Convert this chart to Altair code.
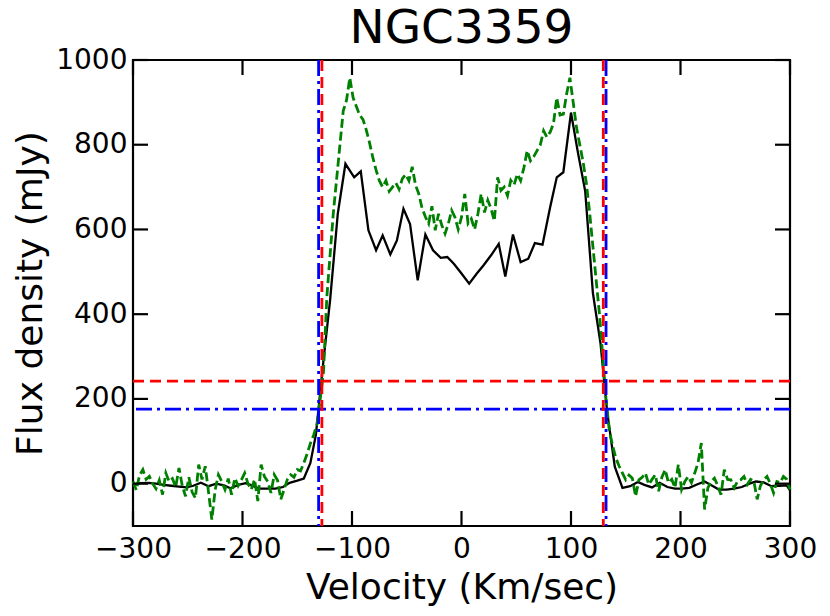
import altair as alt
import pandas as pd

# ---- data ----
black_vel = [-300, -293, -286, -279, -272, -265, -258, -251, -245, -238,
             -231, -224, -217, -211, -204, -197, -190, -184, -177, -170,
             -163, -157, -150, -144, -138, -133, -126, -120, -113, -106,
             -98, -92, -85, -78, -72, -65, -59, -53, -47, -40,
             -33, -26, -19, -13, -7, 0, 7, 14, 20, 27,
             34, 40, 47, 54, 61, 67, 74, 81, 87, 93,
             100, 106, 113, 120, 127, 133, 140, 147, 154, 161,
             167, 174, 181, 188, 195, 201, 208, 215, 222, 229,
             235, 242, 249, 256, 263, 269, 276, 283, 290, 297, 300]
black_flux = [-2, 1, 2, 0, -3, -5, -7, -9, -5, 2,
              -6, 0, -4, -11, -3, 1, -6, -12, -12, -12,
              -8, 2, 7, 12, 49, 115, 292, 433, 637, 755,
              723, 737, 598, 551, 586, 541, 574, 649, 613, 480,
              588, 551, 533, 535, 519, 496, 472, 496, 515, 539,
              566, 489, 588, 523, 531, 568, 564, 653, 723, 735,
              876, 786, 690, 450, 330, 170, 40, -10, -6, 4,
              -3, -9, 2, -8, -12, -12, -10, -2, 5, -5,
              -14, -14, -12, -8, 0, 5, 3, -6, -5, -4, -16]

green_vel = list(range(-300, 301, 3))
green_flux = [5, -15, 20, 33, 10, 17, 0, -12, 8, -26,
              25, 5, 12, -8, 37, -5, -30, 15, -20, -34,
              45, 10, 41, -20, -85, -15, 21, 5, -14, 12,
              -26, 13, -5, 9, 25, 0, -14, 10, -41, 45,
              17, 5, -22, 21, 8, -37, -14, 10, 21, 15,
              33, 30, 49, 70, 95, 115, 140, 200, 265, 440,
              540, 640, 720, 800, 880, 905, 958, 911, 890, 870,
              860, 835, 805, 770, 740, 715, 700, 715, 690, 700,
              710, 695, 720, 730, 715, 748, 705, 684, 650, 630,
              614, 655, 598, 637, 610, 590, 614, 645, 629, 600,
              629, 684, 614, 625, 600, 637, 684, 640, 669, 649,
              620, 723, 692, 700, 680, 716, 705, 731, 715, 746,
              786, 762, 772, 786, 800, 833, 818, 830, 850, 911,
              870, 872, 920, 958, 900, 841, 800, 760, 710, 640,
              560, 480, 400, 300, 200, 125, 90, 60, 41, 25,
              9, 20, 13, -30, 9, 15, 25, -2, 10, 21,
              -18, 15, 33, 2, 10, -10, 45, -14, 5, 17,
              2, 25, 49, 96, -61, -10, 5, 13, -5, -26,
              33, 10, 9, -10, 5, 9, 17, -2, 10, 6,
              -37, -5, 9, 17, 0, -22, 5, 2, 17, 10,
              -14]

red_level = [242]
blue_level = [176]
red_edges = [-127.5, 129.5]
blue_edges = [-130.5, 132]

x_ticks = [-300, -200, -100, 0, 100, 200, 300]
y_ticks = [0, 200, 400, 600, 800, 1000]

assert len(black_vel) == len(black_flux)
assert len(green_vel) == len(green_flux)

W, H = 657, 466
TL = 15  # inward tick length

xs = alt.Scale(domain=[-300, 300], nice=False, zero=False)
ys = alt.Scale(domain=[-100, 1000], nice=False, zero=False)

x_axis = alt.Axis(values=x_ticks, title="Velocity (Km/sec)", ticks=False, tickSize=0,
                  domain=False, grid=False, labelFontSize=28, labelPadding=9,
                  titleFontSize=36, titlePadding=7, labelFlush=False, format="d")
y_axis = alt.Axis(values=y_ticks, title="Flux density (mJy)", ticks=False, tickSize=0,
                  domain=False, grid=False, labelFontSize=28, labelPadding=6,
                  titleFontSize=36, titlePadding=6, labelFlush=False, format="d")

black_df = pd.DataFrame({"v": black_vel, "f": black_flux})
green_df = pd.DataFrame({"v": green_vel, "f": green_flux})

X = alt.X("v:Q", scale=xs, axis=x_axis)
Y = alt.Y("f:Q", scale=ys, axis=y_axis)

black = alt.Chart(black_df).mark_line(color="black", strokeWidth=2.3).encode(x=X, y=Y, order="v:Q")
green = alt.Chart(green_df).mark_line(color="#008000", strokeWidth=2.8, strokeDash=[9, 4]).encode(x=X, y=Y, order="v:Q")

xt = pd.DataFrame({"v": x_ticks})
yt = pd.DataFrame({"f": y_ticks})
bottom_ticks = alt.Chart(xt).mark_rule(color="black", strokeWidth=2.2).encode(
    x=X, y=alt.value(H), y2=alt.value(H - TL))
top_ticks = alt.Chart(xt).mark_rule(color="black", strokeWidth=2.2).encode(
    x=X, y=alt.value(0), y2=alt.value(TL))
left_ticks = alt.Chart(yt).mark_rule(color="black", strokeWidth=2.2).encode(
    y=Y, x=alt.value(0), x2=alt.value(TL))
right_ticks = alt.Chart(yt).mark_rule(color="black", strokeWidth=2.2).encode(
    y=Y, x=alt.value(W - TL), x2=alt.value(W))

red_h = alt.Chart(pd.DataFrame({"f": red_level})).mark_rule(
    color="#ff0000", strokeWidth=2.8, strokeDash=[11, 6]).encode(y=Y)
blue_h = alt.Chart(pd.DataFrame({"f": blue_level})).mark_rule(
    color="#0000ff", strokeWidth=2.8, strokeDash=[16, 5, 3, 5]).encode(y=Y)
blue_v = alt.Chart(pd.DataFrame({"v": blue_edges})).mark_rule(
    color="#0000ff", strokeWidth=2.8, strokeDash=[16, 5, 3, 5]).encode(x=X)
red_v = alt.Chart(pd.DataFrame({"v": red_edges})).mark_rule(
    color="#ff0000", strokeWidth=2.8, strokeDash=[11, 6]).encode(x=X)

chart = alt.layer(
    black, green, bottom_ticks, top_ticks, left_ticks, right_ticks,
    red_h, blue_h, blue_v, red_v
).properties(
    width=W, height=H,
    title=alt.TitleParams("NGC3359", fontSize=47, font="DejaVu Sans", fontWeight="normal",
                          color="black", frame="group", offset=-7),
    autosize=alt.AutoSizeParams(type="none"),
    padding={"left": 125, "top": 52, "right": 30, "bottom": 82},
).configure_view(
    stroke="black", strokeWidth=2.2
).configure_axis(
    labelFont="DejaVu Sans", titleFont="DejaVu Sans", labelColor="black",
    titleColor="black", titleFontWeight="normal"
)

chart.save("out.html", embed_options={"renderer": "svg", "actions": False})
